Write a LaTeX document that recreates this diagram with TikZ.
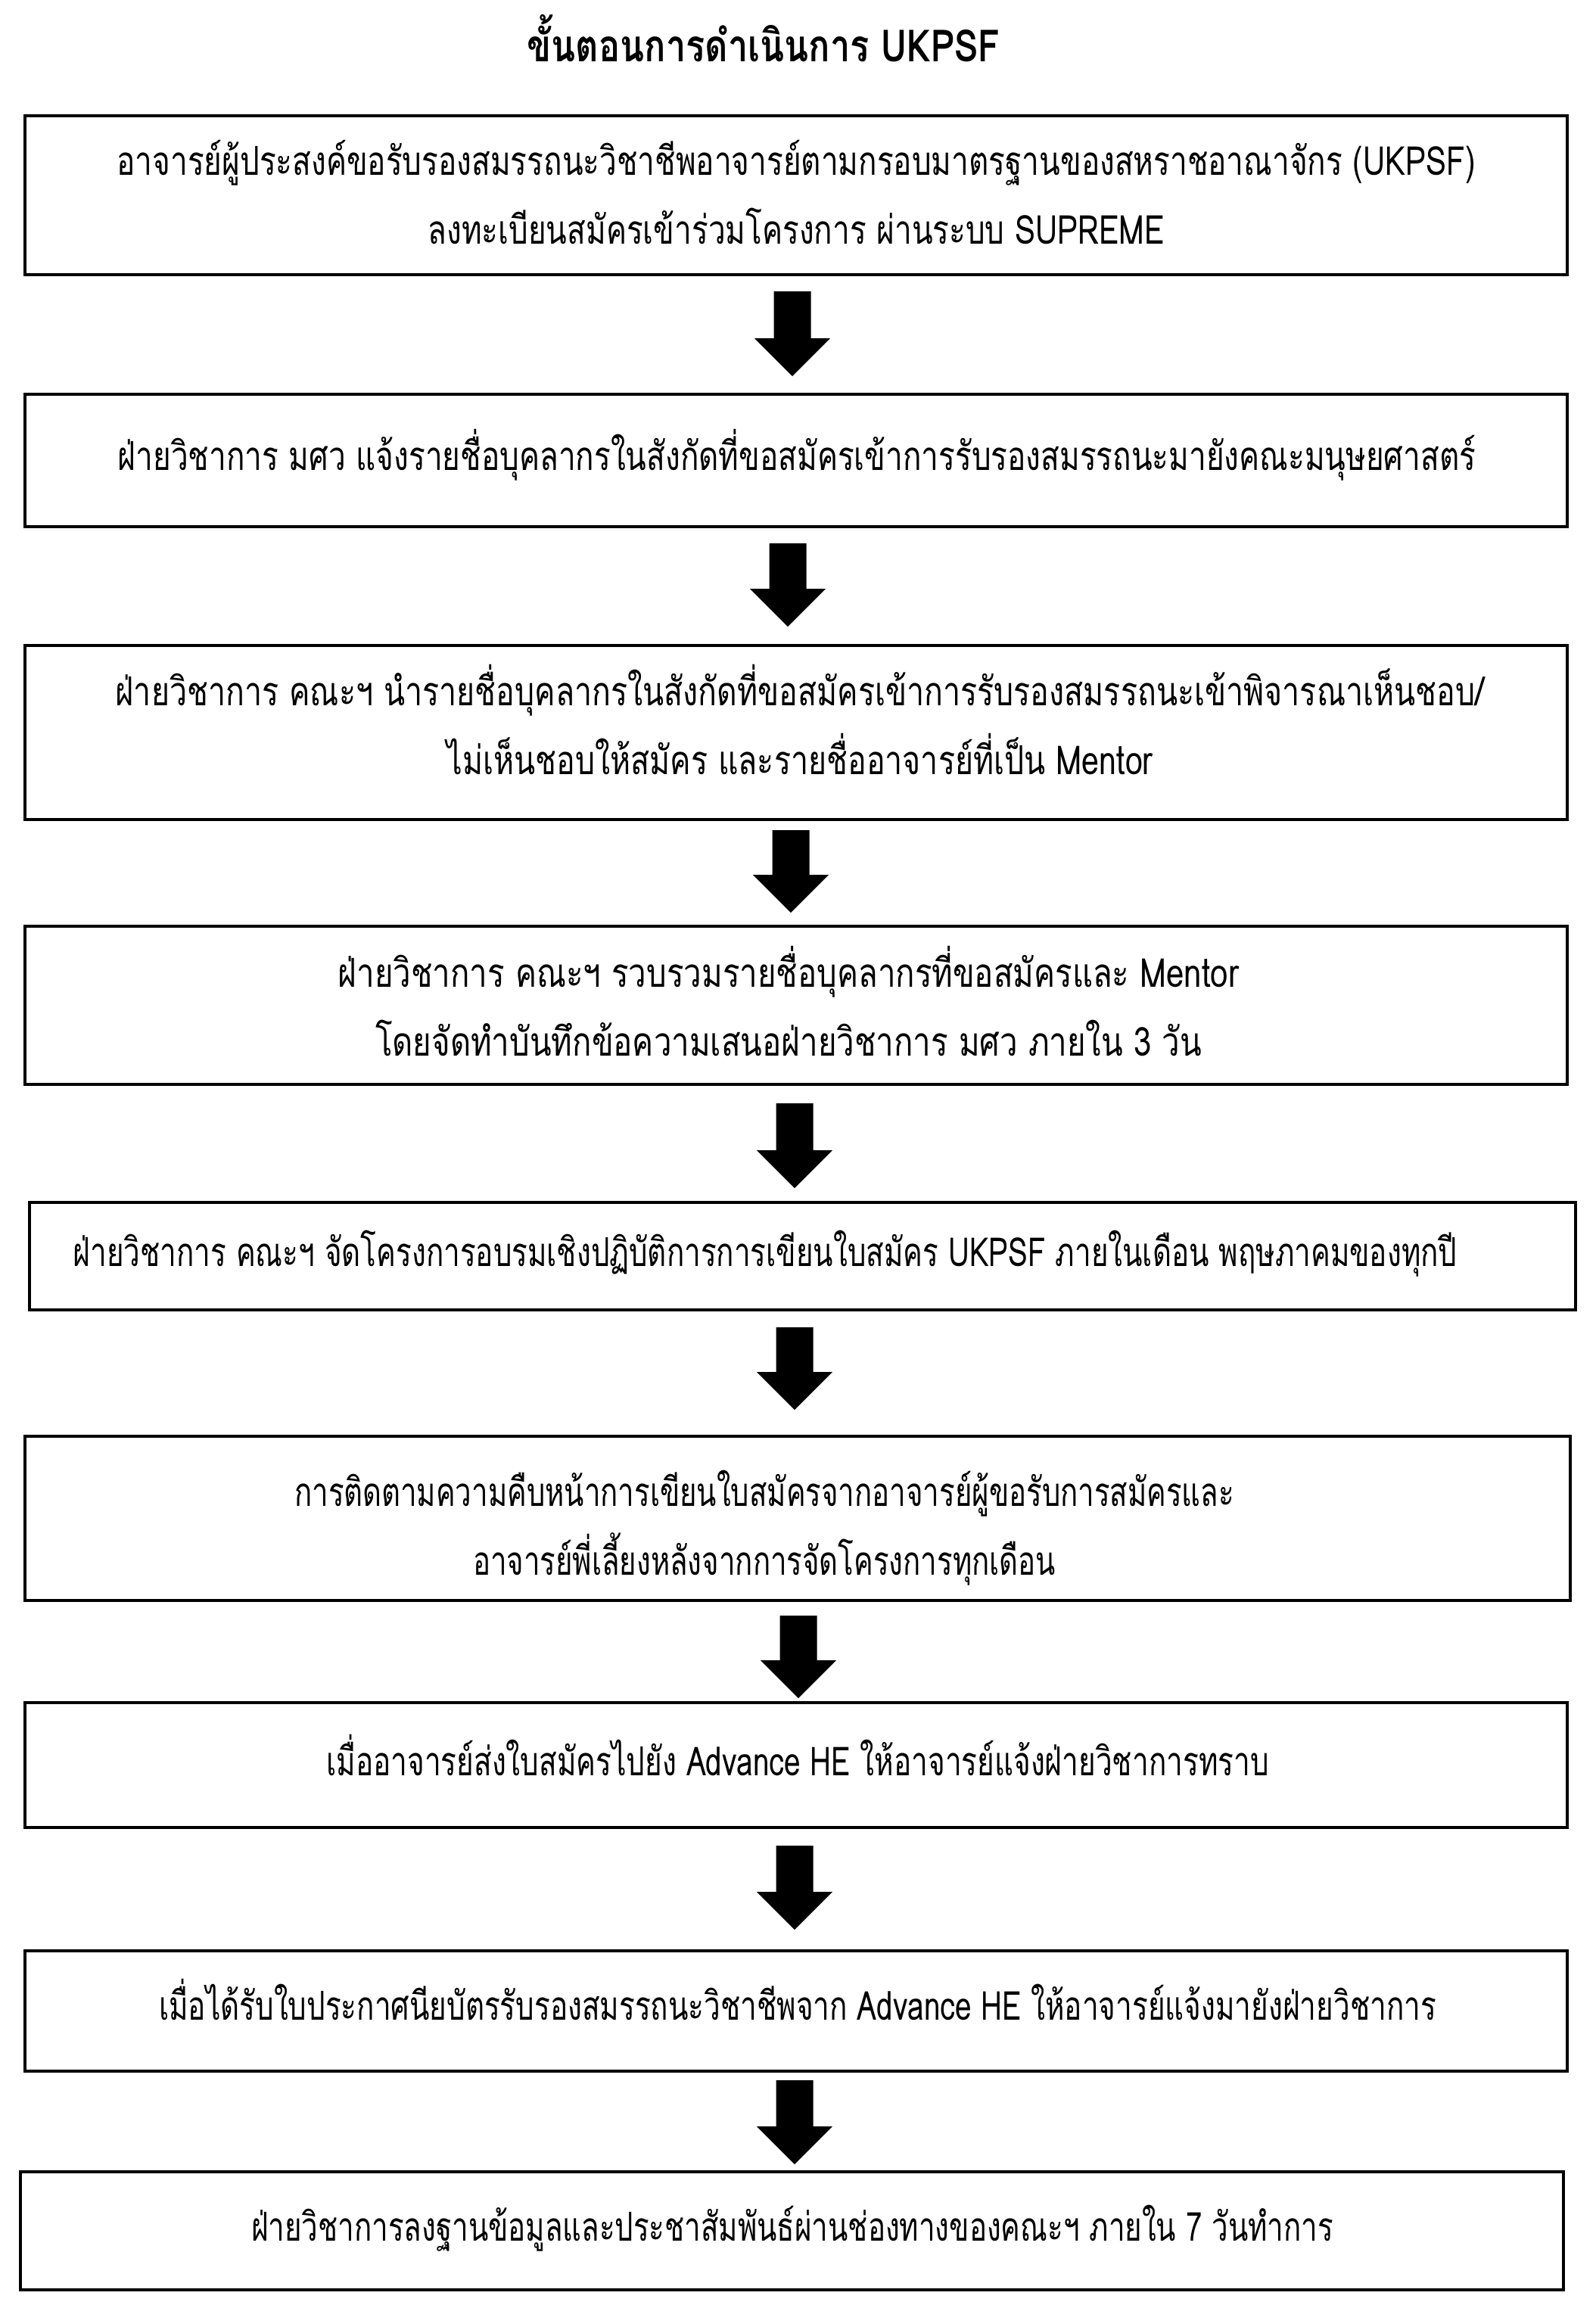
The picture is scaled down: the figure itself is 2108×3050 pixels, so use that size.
\documentclass[tikz,border=0pt]{standalone}
\usepackage{fontspec}
\newfontfamily\thaifont[Script=Thai,FakeStretch=0.8]{Loma}
\tikzset{
  box/.style={draw=black, line width=1.2pt, fill=none},
  txt/.style={inner sep=0pt, align=center, transform shape, font={\thaifont\fontsize{15}{26}\selectfont}},
  ttl/.style={inner sep=0pt, font={\thaifont\bfseries\fontsize{16.7}{20}\selectfont}}
}
\newcommand\blockarrow[3]{%
  \fill[black] (#1-24.5,#2) -- (#1+24.5,#2) -- (#1+24.5,#3-50) -- (#1+50,#3-50) -- (#1,#3) -- (#1-50,#3-50) -- (#1-24.5,#3-50) -- cycle;}
\begin{document}
\begin{tikzpicture}[x=0.01cm,y=-0.01cm]
\useasboundingbox[fill=white] (0,0) rectangle (2108,3050);
\node[ttl] (title) at (1009,51) {ขั้นตอนการดำเนินการ UKPSF};
% boxes
\draw[box] (33,153) rectangle (2071,363) coordinate (b1);
\draw[box] (33,521) rectangle (2071,696) coordinate (b2);
\draw[box] (33,853) rectangle (2071,1083) coordinate (b3);
\draw[box] (33,1224) rectangle (2071,1433) coordinate (b4);
\draw[box] (39,1589) rectangle (2082,1731) coordinate (b5);
\draw[box] (33,1898) rectangle (2075,2115) coordinate (b6);
\draw[box] (33,2250) rectangle (2071,2415) coordinate (b7);
\draw[box] (33,2578) rectangle (2071,2737) coordinate (b8);
\draw[box] (27,2870) rectangle (2066,3026) coordinate (b9);
% texts
\node[txt, xscale=0.96] (t1) at (1052,254) {อาจารย์ผู้ประสงค์ขอรับรองสมรรถนะวิชาชีพอาจารย์ตามกรอบมาตรฐานของสหราชอาณาจักร (UKPSF)\\ลงทะเบียนสมัครเข้าร่วมโครงการ ผ่านระบบ SUPREME};
\node[txt, xscale=0.96] (t2) at (1053,601) {ฝ่ายวิชาการ มศว แจ้งรายชื่อบุคลากรในสังกัดที่ขอสมัครเข้าการรับรองสมรรถนะมายังคณะมนุษยศาสตร์};
\node[txt, xscale=0.975] (t3) at (1057,951) {ฝ่ายวิชาการ คณะฯ นำรายชื่อบุคลากรในสังกัดที่ขอสมัครเข้าการรับรองสมรรถนะเข้าพิจารณาเห็นชอบ/\\ไม่เห็นชอบให้สมัคร และรายชื่ออาจารย์ที่เป็น Mentor};
\node[txt, xscale=0.995] (t4) at (1042,1323) {ฝ่ายวิชาการ คณะฯ รวบรวมรายชื่อบุคลากรที่ขอสมัครและ Mentor\\โดยจัดทำบันทึกข้อความเสนอฝ่ายวิชาการ มศว ภายใน 3 วัน};
\node[txt, xscale=0.915] (t5) at (1011,1657) {ฝ่ายวิชาการ คณะฯ จัดโครงการอบรมเชิงปฏิบัติการการเขียนใบสมัคร UKPSF ภายในเดือน พฤษภาคมของทุกปี};
\node[txt, xscale=0.91] (t6) at (1010,2019) {การติดตามความคืบหน้าการเขียนใบสมัครจากอาจารย์ผู้ขอรับการสมัครและ\\อาจารย์พี่เลี้ยงหลังจากการจัดโครงการทุกเดือน};
\node[txt, xscale=0.918] (t7) at (1054,2319) {เมื่ออาจารย์ส่งใบสมัครไปยัง Advance HE ให้อาจารย์แจ้งฝ่ายวิชาการทราบ};
\node[txt, xscale=0.917] (t8) at (1054,2642) {เมื่อได้รับใบประกาศนียบัตรรับรองสมรรถนะวิชาชีพจาก Advance HE ให้อาจารย์แจ้งมายังฝ่ายวิชาการ};
\node[txt, xscale=0.912] (t9) at (1047,2945) {ฝ่ายวิชาการลงฐานข้อมูลและประชาสัมพันธ์ผ่านช่องทางของคณะฯ ภายใน 7 วันทำการ};
% arrows
\blockarrow{1047}{385}{497}
\blockarrow{1041}{718}{828}
\blockarrow{1045}{1097}{1206}
\blockarrow{1050}{1458}{1570}
\blockarrow{1050}{1754}{1863}
\blockarrow{1055}{2135}{2244}
\blockarrow{1050}{2439}{2550}
\blockarrow{1050}{2749}{2860}
\end{tikzpicture}
\end{document}
